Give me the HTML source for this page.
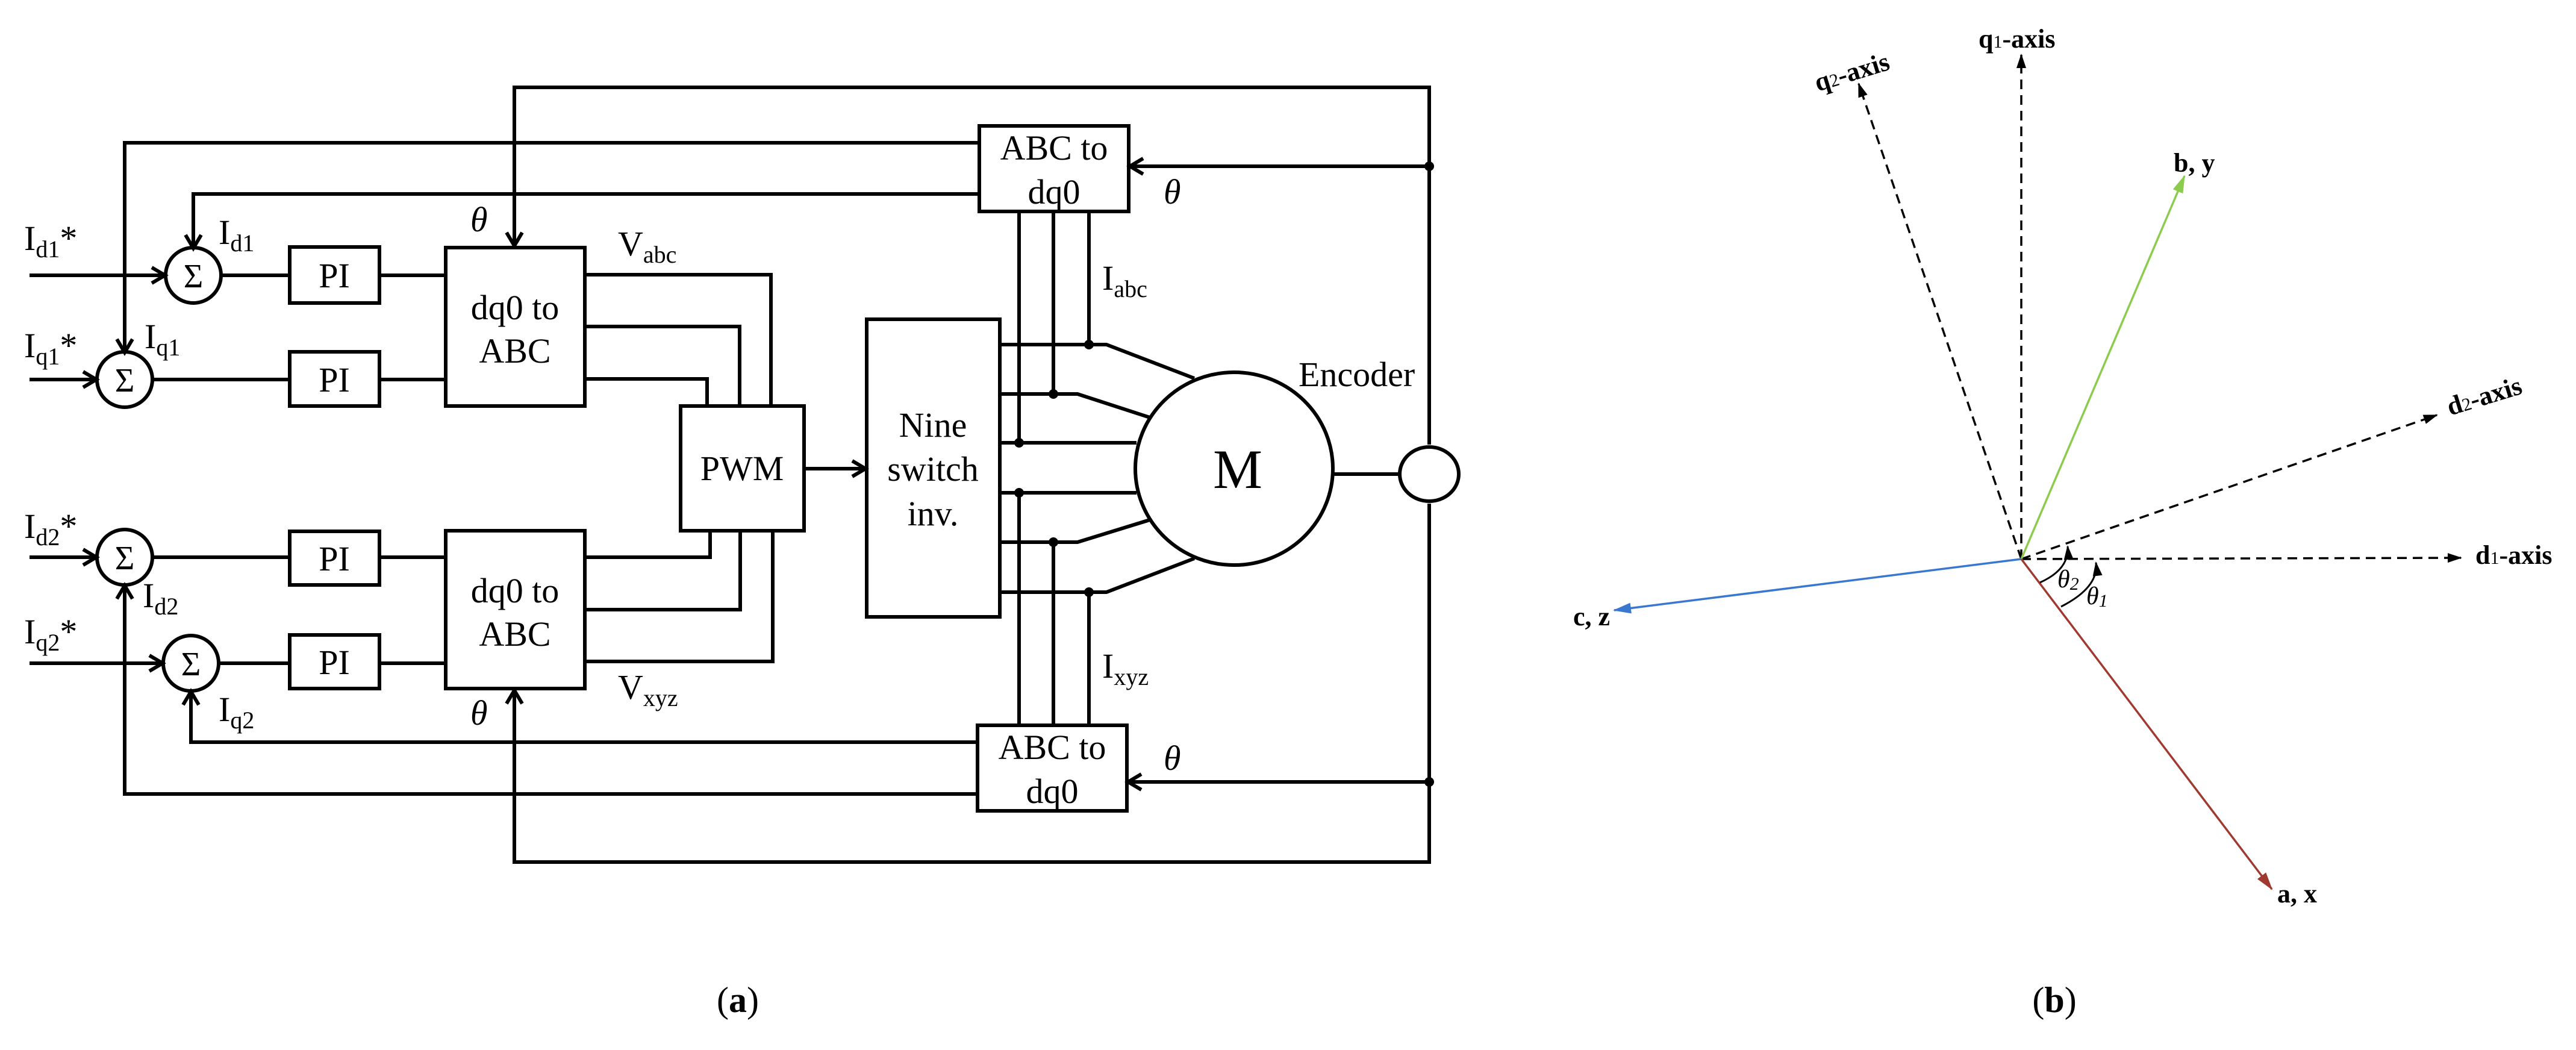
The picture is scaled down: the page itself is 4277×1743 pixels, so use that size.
<!DOCTYPE html>
<html><head><meta charset="utf-8"><style>
html,body{margin:0;padding:0;background:#fff}
svg{display:block}
text{font-family:"Liberation Serif",serif;fill:#000}
</style></head><body>
<svg width="4277" height="1743" viewBox="0 0 4277 1743" xmlns="http://www.w3.org/2000/svg">
<defs>
<marker id="oa" markerWidth="10" markerHeight="10" refX="9" refY="5" orient="auto" markerUnits="userSpaceOnUse" viewBox="0 0 10 10" overflow="visible">
<path d="M-22,-13 L0,0 L-22,13" transform="translate(9,5)" fill="none" stroke="#000" stroke-width="6"/>
</marker>
<marker id="fb" markerWidth="30" markerHeight="20" refX="28" refY="10" orient="auto" markerUnits="userSpaceOnUse"><path d="M0,1 L30,10 L0,19 z" fill="#3a78d0"/></marker>
<marker id="fg" markerWidth="30" markerHeight="20" refX="28" refY="10" orient="auto" markerUnits="userSpaceOnUse"><path d="M0,1 L30,10 L0,19 z" fill="#8ccc4c"/></marker>
<marker id="fr" markerWidth="30" markerHeight="20" refX="28" refY="10" orient="auto" markerUnits="userSpaceOnUse"><path d="M0,1 L30,10 L0,19 z" fill="#a0392f"/></marker>
<marker id="sk" markerWidth="24" markerHeight="16" refX="22" refY="8" orient="auto" markerUnits="userSpaceOnUse"><path d="M0,0 L24,8 L0,16 z" fill="#000"/></marker>
</defs>

<g fill="none" stroke="#000" stroke-width="6">
<polyline points="854,406 854,145 2373,145 2373,738"/>
<polyline points="2373,836 2373,1431 854,1431 854,1148"/>
<path d="M854,200 L854,408" marker-end="url(#oa)"/>
<path d="M854,1300 L854,1146" marker-end="url(#oa)"/>
<rect x="1626" y="209" width="248" height="142"/>
<polyline points="1626,237 207,237 207,583"/>
<path d="M207,400 L207,585" marker-end="url(#oa)"/>
<polyline points="1626,322 321,322 321,410"/>
<path d="M321,350 L321,412" marker-end="url(#oa)"/>
<path d="M2373,276 L1876,276" marker-end="url(#oa)"/>
<rect x="1623" y="1204" width="248" height="142"/>
<polyline points="1623,1232 317,1232 317,1146"/>
<path d="M317,1200 L317,1148" marker-end="url(#oa)"/>
<polyline points="1623,1318 207,1318 207,970"/>
<path d="M207,1100 L207,972" marker-end="url(#oa)"/>
<path d="M2373,1298 L1873,1298" marker-end="url(#oa)"/>
<path d="M49,457 L274,457" marker-end="url(#oa)"/>
<path d="M49,630 L160,630" marker-end="url(#oa)"/>
<path d="M49,925 L160,925" marker-end="url(#oa)"/>
<path d="M49,1101 L270,1101" marker-end="url(#oa)"/>
<circle cx="321" cy="457" r="46"/>
<circle cx="207" cy="630" r="46"/>
<circle cx="207" cy="925" r="46"/>
<circle cx="317" cy="1101" r="46"/>
<line x1="367" y1="457" x2="481" y2="457"/>
<line x1="253" y1="630" x2="481" y2="630"/>
<line x1="253" y1="925" x2="481" y2="925"/>
<line x1="363" y1="1101" x2="481" y2="1101"/>
<rect x="481" y="410" width="149" height="93"/>
<rect x="481" y="584" width="149" height="90"/>
<rect x="481" y="882" width="149" height="89"/>
<rect x="481" y="1054" width="149" height="89"/>
<line x1="630" y1="457" x2="740" y2="457"/>
<line x1="630" y1="630" x2="740" y2="630"/>
<line x1="630" y1="925" x2="740" y2="925"/>
<line x1="630" y1="1101" x2="740" y2="1101"/>
<rect x="740" y="411" width="231" height="263"/>
<rect x="740" y="881" width="231" height="262"/>
<polyline points="971,456 1280,456 1280,674"/>
<polyline points="971,542 1228,542 1228,674"/>
<polyline points="971,629 1174,629 1174,674"/>
<polyline points="971,925 1179,925 1179,881"/>
<polyline points="971,1012 1229,1012 1229,881"/>
<polyline points="971,1098 1283,1098 1283,881"/>
<rect x="1130" y="674" width="205" height="207"/>
<path d="M1335,778 L1437,778" marker-end="url(#oa)"/>
<rect x="1439" y="530" width="221" height="494"/>
<polyline points="1660,572 1837,572 1983,628"/>
<polyline points="1660,654 1789,654 1909,693"/>
<line x1="1660" y1="735" x2="1887" y2="735"/>
<line x1="1660" y1="818" x2="1887" y2="818"/>
<polyline points="1660,900 1789,900 1909,863"/>
<polyline points="1660,983 1837,983 1983,927"/>
<line x1="1692" y1="351" x2="1692" y2="735"/>
<line x1="1749" y1="351" x2="1749" y2="654"/>
<line x1="1808" y1="351" x2="1808" y2="572"/>
<line x1="1692" y1="818" x2="1692" y2="1204"/>
<line x1="1749" y1="900" x2="1749" y2="1204"/>
<line x1="1808" y1="983" x2="1808" y2="1204"/>
<ellipse cx="2049" cy="778" rx="164" ry="160"/>
<line x1="2213" y1="787" x2="2324" y2="787"/>
<ellipse cx="2373" cy="787" rx="49" ry="45"/>
</g>
<g fill="#000">
<circle cx="1808" cy="572" r="8"/><circle cx="1749" cy="654" r="8"/><circle cx="1692" cy="735" r="8"/>
<circle cx="1692" cy="818" r="8"/><circle cx="1749" cy="900" r="8"/><circle cx="1808" cy="983" r="8"/>
<circle cx="2373" cy="276" r="8"/><circle cx="2373" cy="1298" r="8"/>
</g>

<g font-size="58">
<text x="40" y="415">I<tspan font-size="40" dy="12">d1</tspan><tspan dy="-12">*</tspan></text>
<text x="40" y="593">I<tspan font-size="40" dy="12">q1</tspan><tspan dy="-12">*</tspan></text>
<text x="40" y="893">I<tspan font-size="40" dy="12">d2</tspan><tspan dy="-12">*</tspan></text>
<text x="40" y="1068">I<tspan font-size="40" dy="12">q2</tspan><tspan dy="-12">*</tspan></text>
<text x="363" y="405">I<tspan font-size="40" dy="12">d1</tspan></text>
<text x="240" y="578">I<tspan font-size="40" dy="12">q1</tspan></text>
<text x="237" y="1008">I<tspan font-size="40" dy="12">d2</tspan></text>
<text x="363" y="1197">I<tspan font-size="40" dy="12">q2</tspan></text>
<text x="1026" y="424">V<tspan font-size="40" dy="12">abc</tspan></text>
<text x="1026" y="1160">V<tspan font-size="40" dy="12">xyz</tspan></text>
<text x="1830" y="481">I<tspan font-size="40" dy="12">abc</tspan></text>
<text x="1830" y="1125">I<tspan font-size="40" dy="12">xyz</tspan></text>
<text x="781" y="384" font-style="italic">θ</text>
<text x="781" y="1203" font-style="italic">θ</text>
<text x="1932" y="338" font-style="italic">θ</text>
<text x="1932" y="1278" font-style="italic">θ</text>
<text x="321" y="477" text-anchor="middle" font-size="56">Σ</text>
<text x="207" y="650" text-anchor="middle" font-size="56">Σ</text>
<text x="207" y="945" text-anchor="middle" font-size="56">Σ</text>
<text x="317" y="1121" text-anchor="middle" font-size="56">Σ</text>
<text x="555" y="477" text-anchor="middle">PI</text>
<text x="555" y="650" text-anchor="middle">PI</text>
<text x="555" y="947" text-anchor="middle">PI</text>
<text x="555" y="1119" text-anchor="middle">PI</text>
<text x="855" y="530" text-anchor="middle">dq0 to</text>
<text x="855" y="602" text-anchor="middle">ABC</text>
<text x="855" y="1000" text-anchor="middle">dq0 to</text>
<text x="855" y="1072" text-anchor="middle">ABC</text>
<text x="1232" y="797" text-anchor="middle">PWM</text>
<text x="1549" y="725" text-anchor="middle">Nine</text>
<text x="1549" y="798" text-anchor="middle">switch</text>
<text x="1549" y="872" text-anchor="middle">inv.</text>
<text x="1750" y="265" text-anchor="middle">ABC to</text>
<text x="1750" y="338" text-anchor="middle">dq0</text>
<text x="1747" y="1260" text-anchor="middle">ABC to</text>
<text x="1747" y="1333" text-anchor="middle">dq0</text>
<text x="2156" y="641">Encoder</text>
<text x="2055" y="810" text-anchor="middle" font-size="92">M</text>
<text x="1225" y="1680" text-anchor="middle" font-size="60">(<tspan font-weight="bold">a</tspan>)</text>
<text x="3411" y="1680" text-anchor="middle" font-size="60">(<tspan font-weight="bold">b</tspan>)</text>
</g>

<g fill="none" stroke-width="3.5">
<line x1="3356" y1="928" x2="3356" y2="91" stroke="#000" stroke-dasharray="16,10" marker-end="url(#sk)"/>
<line x1="3356" y1="928" x2="3086" y2="139" stroke="#000" stroke-dasharray="16,10" marker-end="url(#sk)"/>
<line x1="3356" y1="928" x2="4086" y2="926" stroke="#000" stroke-dasharray="16,10" marker-end="url(#sk)"/>
<line x1="3356" y1="928" x2="4046" y2="689" stroke="#000" stroke-dasharray="16,10" marker-end="url(#sk)"/>
<line x1="3356" y1="928" x2="3627" y2="292" stroke="#8ccc4c" marker-end="url(#fg)"/>
<line x1="3356" y1="928" x2="2680" y2="1013" stroke="#3a78d0" marker-end="url(#fb)"/>
<line x1="3356" y1="928" x2="3772" y2="1476" stroke="#a0392f" marker-end="url(#fr)"/>
<path d="M3387,967 Q3436,945 3433,907" stroke="#000" stroke-width="3" marker-end="url(#sk)"/>
<path d="M3422,1007 Q3485,975 3480,934" stroke="#000" stroke-width="3" marker-end="url(#sk)"/>
</g>
<g font-weight="bold" font-size="44">
<text x="3285" y="79">q<tspan font-size="30" font-weight="normal">1</tspan>-axis</text>
<text x="3018" y="152" transform="rotate(-17 3018 152)">q<tspan font-size="30" font-weight="normal">2</tspan>-axis</text>
<text x="3609" y="285">b, y</text>
<text x="4068" y="690" transform="rotate(-17 4068 690)">d<tspan font-size="30" font-weight="normal">2</tspan>-axis</text>
<text x="4110" y="936">d<tspan font-size="30" font-weight="normal">1</tspan>-axis</text>
<text x="2612" y="1038">c, z</text>
<text x="3781" y="1498">a, x</text>
</g>
<text x="3416" y="975" font-size="42" font-style="italic">θ<tspan font-size="30" dy="4">2</tspan></text>
<text x="3464" y="1003" font-size="42" font-style="italic">θ<tspan font-size="30" dy="4">1</tspan></text>
</svg>
</body></html>
